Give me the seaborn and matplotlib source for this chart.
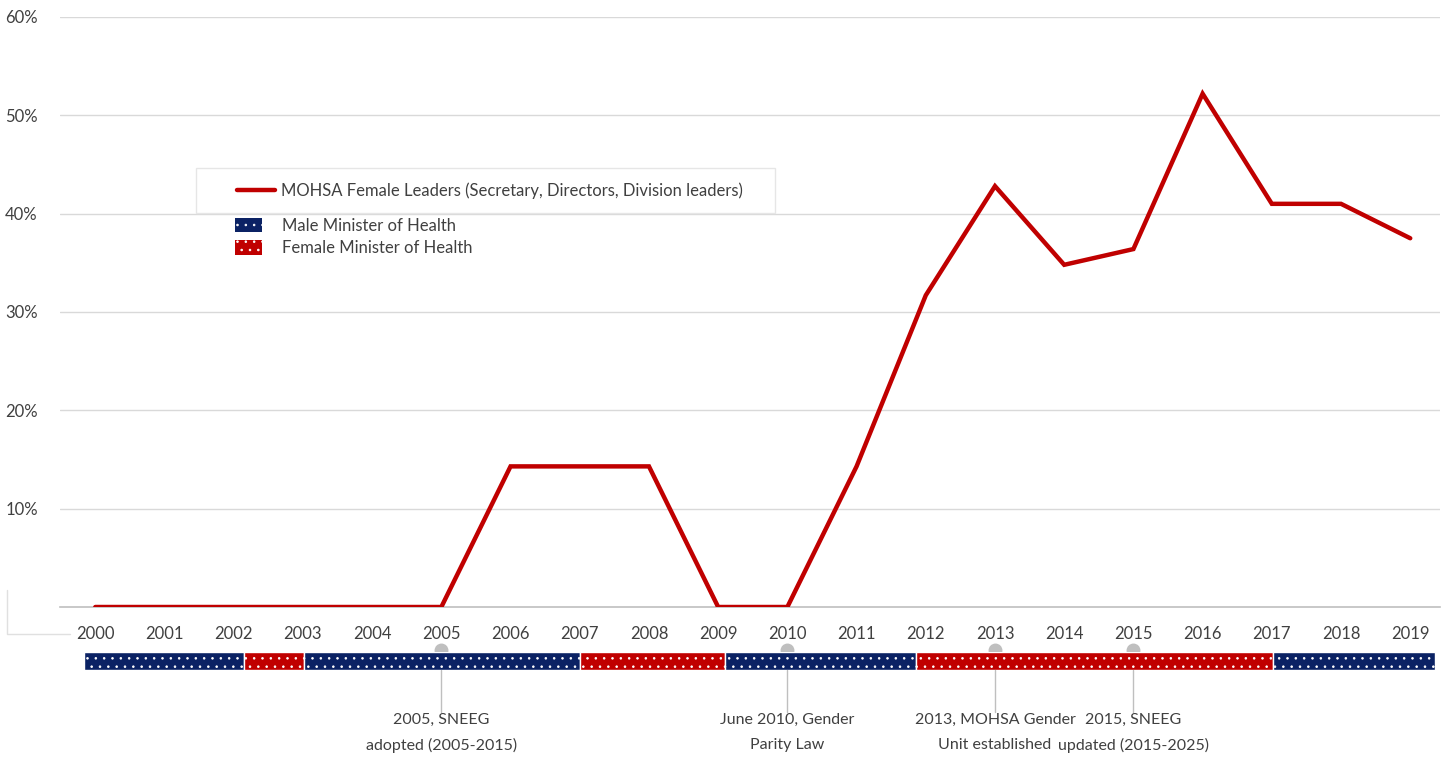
import numpy as np
import pandas as pd
import matplotlib
matplotlib.use("Agg")
import matplotlib.pyplot as plt
import seaborn as sns
from matplotlib.patches import Patch, Rectangle
from matplotlib.lines import Line2D

# ---------------- data ----------------
years = list(range(2000, 2020))
female_leaders_pct = [0, 0, 0, 0, 0, 0, 14.3, 14.3, 14.3, 0, 0, 14.3,
                      31.7, 42.8, 34.8, 36.4, 52.2, 41.0, 41.0, 37.5]
minister_start = [1999.83, 2002.15, 2003.02, 2007.01, 2009.10, 2011.86, 2017.02]
minister_end = [2002.15, 2003.02, 2007.01, 2009.10, 2011.86, 2017.02, 2019.36]
minister_gender = ["Male", "Female", "Male", "Female", "Male", "Female", "Male"]
event_years = [2005, 2010, 2013, 2015]
event_labels = ["2005, SNEEG\nadopted (2005-2015)",
                "June 2010, Gender\nParity Law",
                "2013, MOHSA Gender\nUnit established",
                "2015, SNEEG\nupdated (2015-2025)"]
y_ticks = [10, 20, 30, 40, 50, 60]
line_label = "MOHSA Female Leaders (Secretary, Directors, Division leaders)"
gender_labels = {"Male": "Male Minister of Health", "Female": "Female Minister of Health"}

RED = "#c00000"
NAVY = "#0b2264"
GENDER_COL = {"Male": NAVY, "Female": RED}
TXT = "#404040"
GRID = "#d9d9d9"
FS = 12

sns.set_theme(style="white")
plt.rcParams["font.family"] = ["Lato", "DejaVu Sans"]
plt.rcParams["hatch.linewidth"] = 0.6

W, H = 1450, 762
fig = plt.figure(figsize=(W / 100, H / 100), dpi=100)

def fx(px):
    return px / W

def fy(py):
    return 1 - py / H

x0, x1 = 60, 1440
ax = fig.add_axes([fx(x0), fy(607), fx(x1 - x0), (607 - 17) / H])
ax2 = fig.add_axes([fx(x0), fy(670), fx(x1 - x0), 18 / H])

df = pd.DataFrame({"year": years, "pct": female_leaders_pct})
sns.lineplot(data=df, x="year", y="pct", ax=ax, color=RED, linewidth=3.2,
             solid_joinstyle="miter", zorder=5)

xlim = (1999.49, 2019.43)
ax.set_xlim(*xlim)
ax.set_ylim(0, 60)
ax.set_yticks(y_ticks)
ax.set_yticklabels([f"{v}%" for v in y_ticks])
ax.set_xticks(years)
ax.set_xticklabels([str(y) for y in years])
ax.set_xlabel("")
ax.set_ylabel("")
ax.grid(axis="y", color=GRID, linewidth=1.0)
ax.grid(axis="x", visible=False)
for s in ["top", "right", "left"]:
    ax.spines[s].set_visible(False)
ax.spines["bottom"].set_color("#bfbfbf")
ax.spines["bottom"].set_linewidth(1.2)
ax.tick_params(axis="x", length=0, pad=14, labelsize=FS, labelcolor=TXT)
ax.tick_params(axis="y", length=0, pad=16, labelsize=FS, labelcolor=TXT)
for lab in ax.get_yticklabels():
    lab.set_horizontalalignment("right")

# minister bar
ax2.set_xlim(*xlim)
ax2.set_ylim(0, 1)
ax2.axis("off")
for s, e, g in zip(minister_start, minister_end, minister_gender):
    ax2.barh(0.5, e - s, left=s, height=1.0, color=GENDER_COL[g],
             edgecolor="white", linewidth=1.0, hatch="..", zorder=3)

# events (each label line as its own text)
line_step = 1.35  # in bar-height units (~24 px)
for yr, lab in zip(event_years, event_labels):
    ax2.plot([yr], [1.1], marker="o", markersize=9, color="#bfbfbf",
             zorder=2, clip_on=False)
    ax2.plot([yr, yr], [0, -2.35], color="#bfbfbf", linewidth=1.0,
             zorder=1, clip_on=False)
    for i, part in enumerate(lab.split("\n")):
        ax2.text(yr, -2.4 - i * line_step, part, ha="center", va="top",
                 fontsize=11.5, color=TXT, clip_on=False)

# legend box for the line
fig.patches.append(Rectangle((fx(196), fy(213)), fx(775 - 196), (213 - 168) / H,
                             transform=fig.transFigure, facecolor="white",
                             edgecolor="#e6e6e6", linewidth=1.0, zorder=6))
leg1 = fig.legend(handles=[Line2D([0], [0], color=RED, linewidth=3.2)],
                  labels=[line_label], loc="center left",
                  bbox_to_anchor=(fx(237), fy(191)), frameon=False,
                  fontsize=FS, handlelength=2.3, handletextpad=0.35,
                  labelcolor=TXT, borderaxespad=0, borderpad=0)
leg1.set_zorder(7)
handles2 = [Patch(facecolor=GENDER_COL[g], edgecolor="white", hatch="..",
                  linewidth=0.0) for g in ["Male", "Female"]]
leg2 = fig.legend(handles=handles2,
                  labels=[gender_labels["Male"], gender_labels["Female"]],
                  loc="upper left", bbox_to_anchor=(fx(235), fy(218)),
                  frameon=False, fontsize=FS, handlelength=1.6,
                  handleheight=0.95, handletextpad=1.2, labelspacing=0.38,
                  labelcolor=TXT, borderaxespad=0, borderpad=0)

# faint box fragment at lower left
fig.add_artist(Line2D([fx(7), fx(7), fx(70)], [fy(590), fy(634), fy(634)],
                      transform=fig.transFigure, color="#e0e0e0", linewidth=1.0))

fig.savefig("out.png", dpi=100, facecolor="white")
